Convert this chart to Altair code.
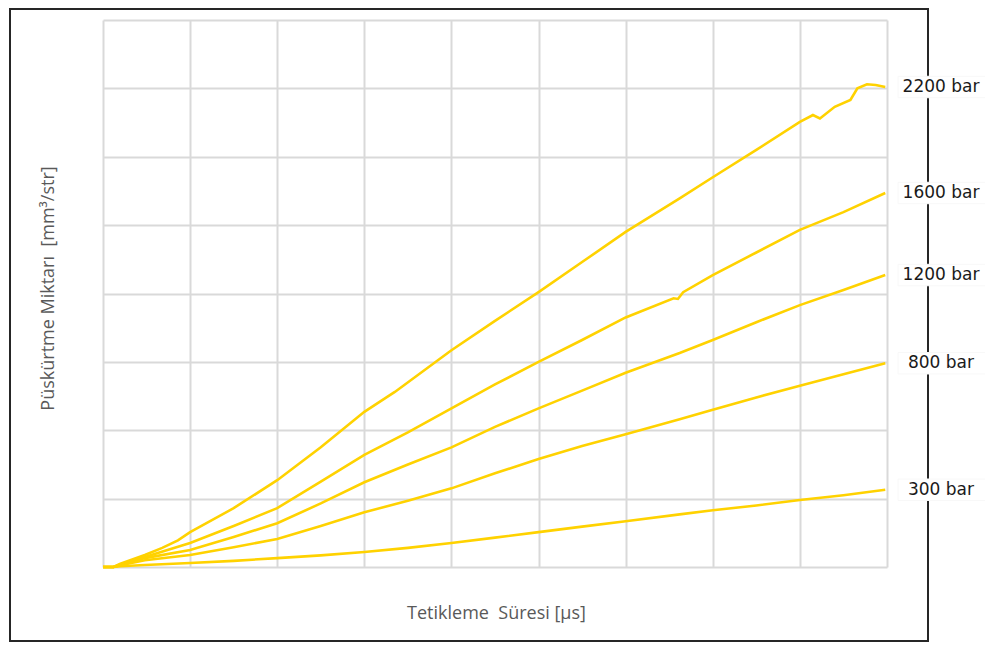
import altair as alt
import pandas as pd

series_names = ["2200 bar", "1600 bar", "1200 bar", "800 bar", "300 bar"]

x_2200 = [0, 0.12, 0.2, 0.48, 0.68, 0.86, 1.0, 1.5, 2.0, 2.5, 3.0, 3.35, 4.0, 4.5, 5.0, 5.5,
          6.0, 6.62, 7.0, 7.5, 8.0, 8.15, 8.23, 8.4, 8.58, 8.66, 8.77, 8.87, 8.98]
y_2200 = [0, 0.0, 0.05, 0.175, 0.28, 0.39, 0.51, 0.86, 1.27, 1.75, 2.27, 2.56, 3.17, 3.6, 4.02, 4.46,
          4.90, 5.39, 5.70, 6.10, 6.51, 6.61, 6.56, 6.73, 6.83, 7.0, 7.06, 7.05, 7.02]

x_1600 = [0, 0.12, 0.2, 0.48, 1.0, 1.5, 2.0, 2.5, 3.0, 3.5, 4.0, 4.5, 5.0, 5.5, 6.0, 6.55, 6.6,
          6.66, 7.0, 7.5, 8.0, 8.5, 8.98]
y_1600 = [0, 0.0, 0.035, 0.146, 0.35, 0.6, 0.86, 1.25, 1.64, 1.97, 2.32, 2.67, 3.0, 3.32, 3.65, 3.93, 3.92,
          4.02, 4.27, 4.6, 4.93, 5.19, 5.47]

x_common = [0, 0.12, 0.2, 0.48, 1.0, 1.5, 2.0, 2.5, 3.0, 3.5, 4.0, 4.5, 5.0, 5.5, 6.0, 6.62, 7.0,
            7.5, 8.0, 8.5, 8.98]
y_1200 = [0, 0.0, 0.03, 0.13, 0.25, 0.44, 0.64, 0.93, 1.24, 1.5, 1.75, 2.05, 2.32, 2.58, 2.84, 3.13, 3.32,
          3.58, 3.83, 4.05, 4.27]
y_800 = [0, 0.0, 0.025, 0.10, 0.175, 0.29, 0.41, 0.6, 0.80, 0.97, 1.15, 1.37, 1.58, 1.77, 1.94, 2.16, 2.30,
         2.48, 2.65, 2.82, 2.98]
y_300 = [0, 0.0, 0.01, 0.03, 0.058, 0.09, 0.13, 0.17, 0.22, 0.28, 0.35, 0.43, 0.51, 0.59, 0.67, 0.77, 0.83,
         0.90, 0.98, 1.05, 1.13]

x_ticks = list(range(10))
y_ticks = list(range(9))

series_data = [
    ("2200 bar", x_2200, y_2200),
    ("1600 bar", x_1600, y_1600),
    ("1200 bar", x_common, y_1200),
    ("800 bar", x_common, y_800),
    ("300 bar", x_common, y_300),
]

rows = []
for name, xs_, ys_ in series_data:
    for i, (a, b) in enumerate(zip(xs_, ys_)):
        rows.append({"series": name, "x": a, "y": b, "order": i})
df = pd.DataFrame(rows)
labels_df = pd.DataFrame({"series": [s[0] for s in series_data],
                          "y": [s[2][-1] for s in series_data]})
dummy = pd.DataFrame({"a": [0]})

W, H = 784, 547
LINE = "#FFD200"
xscale = alt.Scale(domain=[0, 9], nice=False, zero=False)
yscale = alt.Scale(domain=[0, 8], nice=False, zero=False)

lines = alt.Chart(df).mark_line(strokeWidth=2.6, color=LINE).encode(
    x=alt.X("x:Q", scale=xscale,
            axis=alt.Axis(values=x_ticks, grid=True, labels=False, ticks=False, domain=False,
                          title="Tetikleme\u00a0 Süresi [µs]", titleX=393, titleY=46,
                          titleBaseline="middle", titleAlign="center",
                          titleFont="Open Sans", titleFontSize=18, titleFontWeight="normal",
                          titleColor="#595959", gridColor="#d9d9d9", gridWidth=2)),
    y=alt.Y("y:Q", scale=yscale,
            axis=alt.Axis(values=y_ticks, grid=True, labels=False, ticks=False, domain=False,
                          title="Püskürtme Miktarı\u00a0 [mm³/str]", titleX=-55, titleY=268,
                          titleAngle=270, titleBaseline="middle", titleAlign="center",
                          titleFont="Open Sans", titleFontSize=18, titleFontWeight="normal",
                          titleColor="#595959", gridColor="#d9d9d9", gridWidth=2)),
    detail="series:N",
    order="order:Q",
)

frame_color = "#262626"
top = alt.Chart(dummy).mark_rule(color=frame_color, strokeWidth=2).encode(
    x=alt.value(-93), x2=alt.value(826), y=alt.value(-11))
bottom = alt.Chart(dummy).mark_rule(color=frame_color, strokeWidth=2).encode(
    x=alt.value(-93), x2=alt.value(826), y=alt.value(621))
left = alt.Chart(dummy).mark_rule(color=frame_color, strokeWidth=2).encode(
    x=alt.value(-93), y=alt.value(-12), y2=alt.value(622))
right = alt.Chart(dummy).mark_rule(color=frame_color, strokeWidth=2).encode(
    x=alt.value(825), y=alt.value(-12), y2=alt.value(622))

boxes = alt.Chart(labels_df).transform_calculate(
    y_lo="datum.y - 0.157", y_hi="datum.y + 0.157"
).mark_rect(fill="white", stroke="#f8f8f8", strokeWidth=1).encode(
    x=alt.value(795), x2=alt.value(884),
    y=alt.Y("y_lo:Q", scale=yscale), y2="y_hi:Q")

texts = alt.Chart(labels_df).mark_text(
    font="DejaVu Sans", fontSize=17, align="center", baseline="middle", color="#1a1a1a"
).encode(
    x=alt.value(838),
    y=alt.Y("y:Q", scale=yscale),
    text="series:N")

chart = alt.layer(lines, top, bottom, left, right, boxes, texts).properties(
    width=W, height=H,
    autosize=alt.AutoSizeParams(type="none"),
    padding={"left": 95, "top": 12, "right": 98, "bottom": 76},
).configure_view(stroke=None)

chart.save("out.html", embed_options={"renderer": "svg", "actions": False})
